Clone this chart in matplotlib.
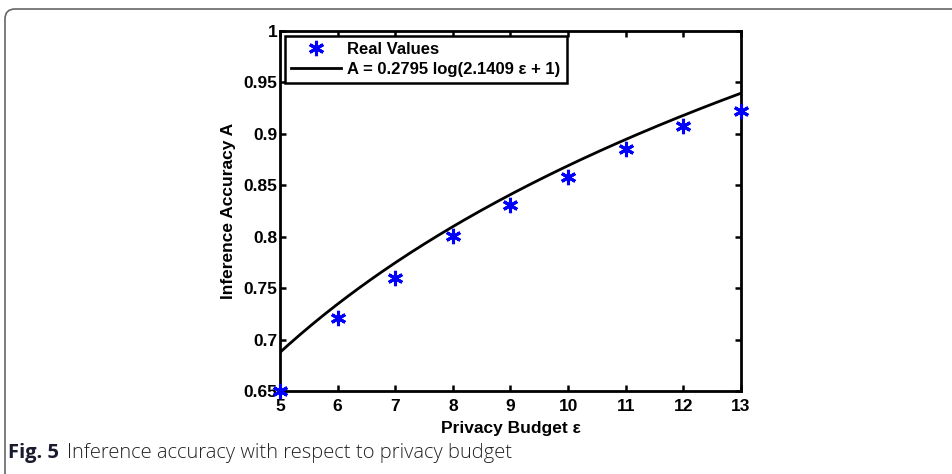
import numpy as np
import matplotlib.pyplot as plt
from matplotlib.patches import FancyBboxPatch

# privacy budget and measured inference accuracy
budget = [5, 6, 7, 8, 9, 10, 11, 12, 13]
accuracy = [0.650, 0.721, 0.760, 0.801, 0.831, 0.858, 0.885, 0.908, 0.922]

# fitted model A = a log(b*eps + 1)
fit_a = 0.2795
fit_b = 2.1409

plt.rcParams['font.family'] = ['Liberation Sans', 'DejaVu Sans']
plt.rcParams['font.weight'] = 'bold'

fig = plt.figure(figsize=(9.53, 4.74), dpi=100)
ax = fig.add_axes([280/953, 83/474, 461/953, 360/474])

eps = np.linspace(5, 13, 200)
ax.plot(budget, accuracy, linestyle='none', marker=(6, 2, 0), color='#0000ff',
        markersize=11, markeredgewidth=2.2, clip_on=False, zorder=3, label='Real Values')
ax.plot(eps, fit_a * np.log(fit_b * eps + 1), color='black', linewidth=2,
        label='A = %.4f log(%.4f ε + 1)' % (fit_a, fit_b))

ax.set_xlim(5, 13)
ax.set_ylim(0.65, 1)
ax.set_xticks(range(5, 14))
ax.set_yticks([0.65, 0.7, 0.75, 0.8, 0.85, 0.9, 0.95, 1])
ax.set_yticklabels(['0.65', '0.7', '0.75', '0.8', '0.85', '0.9', '0.95', '1'])
ax.tick_params(direction='in', length=4, width=1.8, top=True, right=True,
               labelsize=12.5)
ax.tick_params(axis='y', pad=2)
ax.tick_params(axis='x', pad=6)
for s in ax.spines.values():
    s.set_linewidth(2)

ax.set_xlabel('Privacy Budget ε', fontsize=12.5, fontweight='bold', va='center')
ax.set_ylabel('Inference Accuracy A', fontsize=12.5, fontweight='bold', va='center')
ax.xaxis.set_label_coords(0.5, -(429 - 391) / 360)
ax.yaxis.set_label_coords((229 - 280) / 461, 0.5)

leg = ax.legend(loc='upper left', fontsize=12, handlelength=3.0, borderaxespad=0.3,
                fancybox=False, framealpha=1, edgecolor='black',
                borderpad=0.35, labelspacing=0.3, handletextpad=0.4)
leg.get_frame().set_linewidth(1.8)
for t in leg.get_texts():
    t.set_fontweight('bold')

# outer rounded frame around the figure panel
frame = FancyBboxPatch((0.05, -0.5), 10, 5.15, boxstyle='round,pad=0,rounding_size=0.1',
                       transform=fig.dpi_scale_trans, fill=False, edgecolor='#666666',
                       linewidth=1.2)
fig.add_artist(frame)

fig.text(8/953, 1 - 453/474, 'Fig. 5', fontsize=14.5, fontweight='bold',
         family='Open Sans', color='#1a1a2e', va='center', ha='left')
fig.text(67/953, 1 - 453/474, 'Inference accuracy with respect to privacy budget',
         fontsize=14.5, fontweight='light', family='Open Sans', color='#222222',
         va='center', ha='left')

fig.savefig('out.png', dpi=100)
